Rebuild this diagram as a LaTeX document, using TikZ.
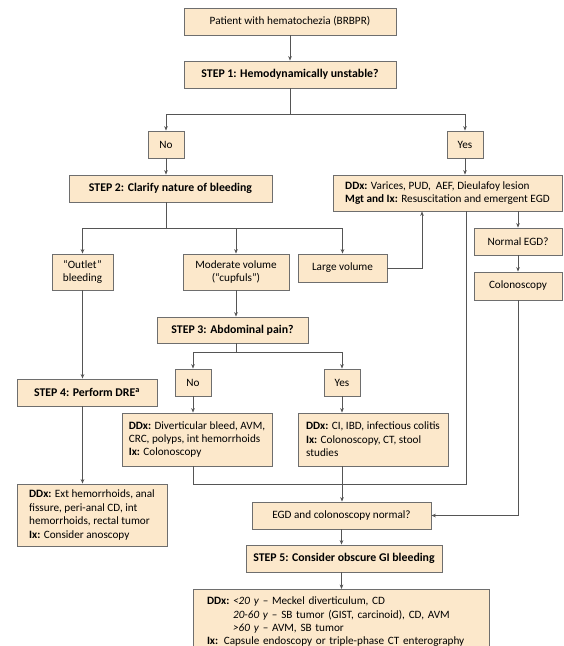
\documentclass[tikz,border=0pt]{standalone}
\usepackage{fontspec}
\setmainfont{Carlito}
\usetikzlibrary{positioning,arrows.meta}
\definecolor{boxfill}{HTML}{FCE8CB}
\definecolor{boxline}{HTML}{6E6E6E}
\definecolor{flowgray}{HTML}{555555}
\tikzset{
    every node/.style={font=\fontsize{11.2}{13.4}\selectfont},
    flowbox/.style={draw=boxline,fill=boxfill,line width=0.8pt,inner sep=2pt,align=center},
    stepbox/.style={flowbox,font=\fontsize{11.8}{13.4}\selectfont\bfseries},
    ddxbox/.style={flowbox,align=left},
    flow/.style={draw=flowgray,line width=0.7pt},
    arr/.style={flow,-{Stealth[length=4.5pt,width=3.6pt]}}
}

\begin{document}
\begin{tikzpicture}[x=1pt,y=-1pt]
\useasboundingbox (0,0) rectangle (563,646);
\clip (0,0) rectangle (563,646);
\node[flowbox,minimum width=212pt,minimum height=27pt] (patient) at (290,21.5) {Patient with hematochezia (BRBPR)};
\node[stepbox,minimum width=212pt,minimum height=27pt] (step1) at (290,74.5) {STEP 1: Hemodynamically unstable?};
\node[flowbox,minimum width=36pt,minimum height=27pt] (no1) at (166,144.5) {No};
\node[flowbox,minimum width=36pt,minimum height=27pt] (yes1) at (465,144.5) {Yes};
\node[stepbox,minimum width=203pt,minimum height=27pt] (step2) at (170.5,188.5) {STEP 2: Clarify nature of bleeding};
\node[ddxbox,minimum width=229pt,minimum height=36pt] (ddxA) at (447.5,193)
    {\textbf{DDx:} Varices, PUD,\ \ AEF, Dieulafoy lesion\\\textbf{Mgt and Ix:} Resuscitation and emergent EGD};
\node[flowbox,minimum width=61pt,minimum height=36pt] (outlet) at (82.5,272) {``Outlet''\\bleeding};
\node[flowbox,minimum width=106pt,minimum height=36pt] (moderate) at (236,272) {Moderate volume\\(``cupfuls'')};
\node[flowbox,minimum width=89pt,minimum height=28pt] (large) at (342.5,268) {Large volume};
\node[flowbox,minimum width=88pt,minimum height=27pt] (normalegd) at (518,241.5) {Normal EGD?};
\node[flowbox,minimum width=88pt,minimum height=28pt] (colon) at (518,286) {Colonoscopy};
\node[stepbox,minimum width=151pt,minimum height=26pt] (step3) at (232.5,330) {STEP 3: Abdominal pain?};
\node[flowbox,minimum width=36pt,minimum height=27pt] (no2) at (193,382.5) {No};
\node[flowbox,minimum width=36pt,minimum height=27pt] (yes2) at (342,382.5) {Yes};
\node[stepbox,minimum width=140pt,minimum height=27pt] (step4) at (87,392.5) {STEP 4: Perform DRE\textsuperscript{a}};
\node[ddxbox,minimum width=150pt,minimum height=53pt] (ddxB) at (197,439.5)
    {\textbf{DDx:} Diverticular bleed, AVM,\\CRC, polyps, int hemorrhoids\\\textbf{Ix:} Colonoscopy};
\node[ddxbox,minimum width=150pt,minimum height=53pt] (ddxC) at (373,439.5)
    {\textbf{DDx:} CI, IBD, infectious colitis\\\textbf{Ix:} Colonoscopy, CT, stool\\studies};
\node[ddxbox,minimum width=150pt,minimum height=62pt] (ddxD) at (92,515)
    {\textbf{DDx:} Ext hemorrhoids, anal\\fissure, peri-anal CD, int\\hemorrhoids, rectal tumor\\\textbf{Ix:} Consider anoscopy};
\node[flowbox,minimum width=179pt,minimum height=27pt] (egdnorm) at (341.5,515.5) {EGD and colonoscopy normal?};
\node[stepbox,minimum width=196pt,minimum height=27pt] (step5) at (344,558.5) {STEP 5: Consider obscure GI bleeding};
\node[flowbox,anchor=north,align=left,inner xsep=14pt,inner ysep=6pt,text width=268pt] (ddxE) at (341,589)
    {\begin{tabular}{@{}l@{\ }l@{}}
    \textbf{DDx:} & \textit{<20 y} -- Meckel diverticulum, CD\\
     & \textit{20-60 y} -- SB tumor (GIST, carcinoid), CD, AVM\\
     & \textit{>60 y} -- AVM, SB tumor\\
    \multicolumn{2}{@{}l@{}}{\textbf{Ix:} Capsule endoscopy or triple-phase CT enterography}\\
    \end{tabular}};
\coordinate (s1j) at (290,114);
\coordinate (s2j) at (166,228);
\coordinate (s3j) at (236,352);
\coordinate (lvx) at (422,268);
\coordinate (dj) at (466,484);
\draw[arr] (patient) -- (step1);
\draw[flow] (step1) -- (s1j);
\draw[arr] (s1j) -| (no1);
\draw[arr] (s1j) -| (yes1);
\draw[arr] (no1) -- (no1 |- step2.north);
\draw[arr] (yes1) -- (yes1 |- ddxA.north);
\draw[flow] (s2j |- step2.south) -- (s2j);
\draw[arr] (s2j) -| (outlet);
\draw[arr] (s2j) -| (moderate);
\draw[arr] (s2j) -| (large);
\draw[arr] (large) -- (lvx) -- (lvx |- ddxA.south);
\draw[arr] (normalegd |- ddxA.south) -- (normalegd);
\draw[arr] (normalegd) -- (colon);
\draw[arr] (colon) |- (egdnorm);
\draw[arr] (outlet) -- (outlet |- step4.north);
\draw[arr] (outlet |- step4.south) -- (outlet |- ddxD.north);
\draw[arr] (moderate) -- (moderate |- step3.north);
\draw[flow] (s3j |- step3.south) -- (s3j);
\draw[arr] (s3j) -| (no2);
\draw[arr] (s3j) -| (yes2);
\draw[arr] (no2) -- (no2 |- ddxB.north);
\draw[arr] (yes2) -- (yes2 |- ddxC.north);
\draw[flow] (no2 |- ddxB.south) |- (dj) -- (dj |- ddxA.south);
\draw[arr] (yes2 |- ddxC.south) -- (yes2 |- egdnorm.north);
\draw[arr] (egdnorm) -- (egdnorm |- step5.north);
\draw[arr] (egdnorm |- step5.south) -- (egdnorm |- ddxE.north);
\end{tikzpicture}
\end{document}
